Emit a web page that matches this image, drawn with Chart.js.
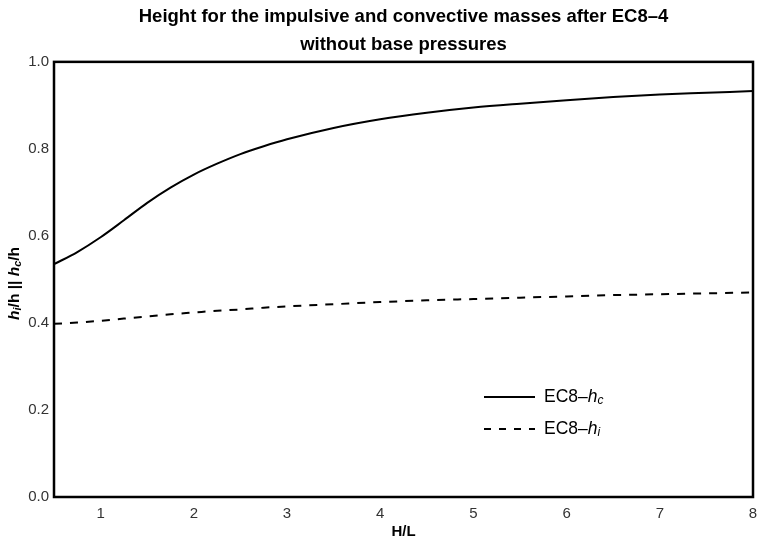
<!DOCTYPE html>
<html>
<head>
<meta charset="utf-8">
<title>EC8-4 heights</title>
<script src="https://cdn.jsdelivr.net/npm/chart.js@4.4.1/dist/chart.umd.min.js"></script>
<style>
  html, body { margin: 0; padding: 0; background: #fff; }
  #wrap { width: 762px; height: 545px; }
</style>
</head>
<body>
<div id="wrap"><canvas id="grafico"></canvas></div>
<script>
// H/L values and the two height ratios read along them
const razonHL = [0.5, 0.75, 1, 1.25, 1.5, 1.75, 2, 2.25, 2.5, 2.75, 3, 3.5, 4, 4.5, 5, 5.5, 6, 6.5, 7, 7.5, 8];
const alturaConvectiva = [0.535, 0.563, 0.597, 0.636, 0.676, 0.711, 0.741, 0.766, 0.788, 0.806, 0.822, 0.848, 0.868, 0.883, 0.895, 0.904, 0.912, 0.919, 0.925, 0.929, 0.933];
const alturaImpulsiva = [0.398, 0.401, 0.405, 0.410, 0.415, 0.420, 0.424, 0.428, 0.431, 0.435, 0.438, 0.443, 0.448, 0.452, 0.455, 0.458, 0.461, 0.464, 0.466, 0.468, 0.470];
const ticksX = [1, 2, 3, 4, 5, 6, 7, 8];
const ticksY = [0, 0.2, 0.4, 0.6, 0.8, 1.0];

const fuente = "'Liberation Sans', Arial, sans-serif";

const puntos = (valores) => razonHL.map((x, i) => ({ x: x, y: valores[i] }));

// italic h with a subscript, returns the x after the text
const escribirH = (ctx, x, y, sub, size, bold) => {
    const peso = bold ? "bold " : "";
    ctx.font = `italic ${peso}${size}px ${fuente}`;
    ctx.fillText("h", x, y);
    x += ctx.measureText("h").width;
    ctx.font = `italic ${peso}${Math.round(size * 0.7)}px ${fuente}`;
    ctx.fillText(sub, x, y + size * 0.22);
    return x + ctx.measureText(sub).width;
};

const anchoH = (ctx, sub, size, bold) => {
    const peso = bold ? "bold " : "";
    ctx.font = `italic ${peso}${size}px ${fuente}`;
    let w = ctx.measureText("h").width;
    ctx.font = `italic ${peso}${Math.round(size * 0.7)}px ${fuente}`;
    return w + ctx.measureText(sub).width;
};

const marcoYTextos = {
    id: "marcoYTextos",
    afterDraw(chart) {
        const ctx = chart.ctx;
        const area = chart.chartArea;
        ctx.save();

        // frame round the plot
        ctx.strokeStyle = "#000";
        ctx.lineWidth = 2.5;
        ctx.strokeRect(area.left, area.top, area.right - area.left, area.bottom - area.top);

        // rotated y label: h_i/h || h_c/h
        const tam = 15.5;
        ctx.save();
        ctx.translate(15, (area.top + area.bottom) / 2 + 4);
        ctx.rotate(-Math.PI / 2);
        ctx.fillStyle = "#000";
        ctx.textBaseline = "middle";
        const partes = [["h", "i"], ["/h || ", null], ["h", "c"], ["/h", null]];
        let ancho = 0;
        partes.forEach((p) => {
            if (p[1]) {
                ancho += anchoH(ctx, p[1], tam, true);
            } else {
                ctx.font = `bold ${tam}px ${fuente}`;
                ancho += ctx.measureText(p[0]).width;
            }
        });
        let x = -ancho / 2;
        partes.forEach((p) => {
            if (p[1]) {
                x = escribirH(ctx, x, 0, p[1], tam, true);
            } else {
                ctx.font = `bold ${tam}px ${fuente}`;
                ctx.fillText(p[0], x, 0);
                x += ctx.measureText(p[0]).width;
            }
        });
        ctx.restore();

        // legend
        const lx = 484, ly1 = 397, ly2 = 429;
        ctx.strokeStyle = "#000";
        ctx.lineWidth = 2;
        ctx.beginPath();
        ctx.moveTo(lx, ly1);
        ctx.lineTo(lx + 51, ly1);
        ctx.stroke();
        ctx.setLineDash([7, 8]);
        ctx.beginPath();
        ctx.moveTo(lx, ly2);
        ctx.lineTo(lx + 51, ly2);
        ctx.stroke();
        ctx.setLineDash([]);

        ctx.fillStyle = "#000";
        ctx.textBaseline = "middle";
        [[ly1, "c"], [ly2, "i"]].forEach((fila) => {
            ctx.font = `17.5px ${fuente}`;
            ctx.fillText("EC8\u2013", 544, fila[0]);
            const xh = 544 + ctx.measureText("EC8\u2013").width;
            escribirH(ctx, xh, fila[0], fila[1], 17.5, false);
        });
        ctx.restore();
    }
};

const config = {
    type: "line",
    data: {
        datasets: [
            {
                label: "EC8-hc",
                data: puntos(alturaConvectiva),
                borderColor: "#000",
                borderWidth: 2,
                pointRadius: 0,
                cubicInterpolationMode: "monotone",
                fill: false
            },
            {
                label: "EC8-hi",
                data: puntos(alturaImpulsiva),
                borderColor: "#000",
                borderWidth: 2,
                borderDash: [8, 8],
                pointRadius: 0,
                cubicInterpolationMode: "monotone",
                fill: false
            }
        ]
    },
    options: {
        responsive: true,
        maintainAspectRatio: false,
        animation: false,
        layout: { padding: { left: 0, right: 9, top: 0, bottom: 0 } },
        plugins: {
            legend: { display: false },
            tooltip: { enabled: false },
            title: {
                display: true,
                fullSize: false,
                text: ["Height for the impulsive and convective masses after EC8\u20134", "without base pressures"],
                color: "#000",
                font: { family: fuente, size: 18.5, weight: "bold", lineHeight: 1.51 },
                padding: { top: 3, bottom: 3 }
            }
        },
        scales: {
            x: {
                type: "linear",
                min: 0.5,
                max: 8,
                grid: { display: false, drawTicks: false },
                border: { display: false },
                afterBuildTicks: (scale) => { scale.ticks = ticksX.map((v) => ({ value: v })); },
                afterFit: (scale) => {
                    scale.height = 48;
                    scale.paddingLeft = 0;
                    scale.paddingRight = 0;
                },
                ticks: {
                    color: "#333",
                    padding: 8,
                    font: { family: fuente, size: 15 }
                },
                title: {
                    display: true,
                    text: "H/L",
                    color: "#000",
                    padding: { top: 2, bottom: 4 },
                    font: { family: fuente, size: 15, weight: "bold" }
                }
            },
            y: {
                min: 0,
                max: 1,
                grid: { display: false, drawTicks: false },
                border: { display: false },
                afterBuildTicks: (scale) => { scale.ticks = ticksY.map((v) => ({ value: v })); },
                afterFit: (scale) => { scale.width = 54; },
                ticks: {
                    color: "#333",
                    padding: 5,
                    font: { family: fuente, size: 15 },
                    callback: (v) => v.toFixed(1)
                }
            }
        }
    },
    plugins: [marcoYTextos]
};

const grafico = new Chart(document.getElementById("grafico"), config);
</script>
</body>
</html>
